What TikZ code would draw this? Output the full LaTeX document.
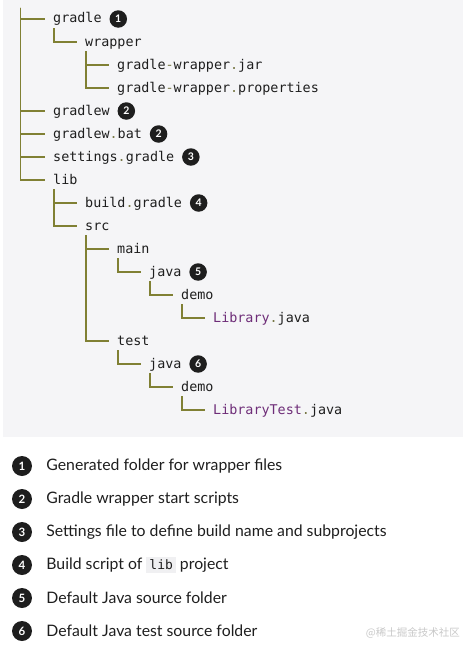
\documentclass[tikz,border=0pt]{standalone}
\usepackage{fontspec}
\setmainfont{Lato}
\setsansfont{Lato}
\setmonofont{DejaVu Sans Mono}
\newfontfamily\cjkfont{Noto Sans CJK SC}
\usetikzlibrary{positioning}

\definecolor{codebg}{RGB}{245,245,247}
\definecolor{inlinebg}{RGB}{240,240,242}
\definecolor{ink}{RGB}{30,30,30}
\definecolor{branch}{RGB}{128,128,52}
\definecolor{punct}{RGB}{120,120,70}
\definecolor{classname}{RGB}{110,45,120}
\definecolor{wmgray}{RGB}{200,200,200}

\newcommand\dt{{\color{punct}.}}
\newcommand\hy{{\color{punct}-}}
\newcommand\codeword[1]{{\setlength\fboxsep{3pt}\colorbox{inlinebg}{\ttfamily\fontsize{13}{15}\selectfont #1}}}
\newcommand\branchto[2]{\draw[treeline] ([xshift=1pt,yshift=-3pt]#1.south west) |- ([xshift=-8pt]#2.west);}

\tikzset{
  entry/.style={anchor=west, inner sep=0pt, text height=10pt, text depth=2pt,
    font=\ttfamily\fontsize{13.4}{15}\selectfont, text=ink},
  treeline/.style={draw=branch, line width=1.4pt},
  badge/.style={circle, fill=ink, text=white, inner sep=0pt, minimum size=17.5pt,
    font=\sffamily\bfseries\fontsize{10.5}{10.5}\selectfont},
  num/.style={circle, fill=ink, text=white, inner sep=0pt, minimum size=20pt,
    font=\sffamily\bfseries\fontsize{11.5}{11.5}\selectfont},
  note/.style={inner sep=0pt, text=ink, font=\fontsize{15.8}{18}\selectfont}
}

\begin{document}
\begin{tikzpicture}[x=1pt, y=-1pt]
\useasboundingbox (0,0) rectangle (463,645);
\fill[codebg] (3,0) rectangle (463,437);

% file tree
\node[inner sep=0pt] (root) at (20,4) {};
\node[entry] (gradle) at (53,19) {gradle};
\node[entry] (wrapper) at (85,42) {wrapper};
\node[entry] (jar) at (117,65) {gradle\hy wrapper\dt jar};
\node[entry] (props) at (117,88) {gradle\hy wrapper\dt properties};
\node[entry] (gradlew) at (53,111) {gradlew};
\node[entry] (bat) at (53,134) {gradlew\dt bat};
\node[entry] (settings) at (53,157) {settings\dt gradle};
\node[entry] (lib) at (53,180) {lib};
\node[entry] (build) at (85,203) {build\dt gradle};
\node[entry] (src) at (85,226) {src};
\node[entry] (main) at (117,249) {main};
\node[entry] (mainjava) at (149,272) {java};
\node[entry] (maindemo) at (181,295) {demo};
\node[entry] (library) at (213,318) {{\color{classname}Library}\dt java};
\node[entry] (test) at (117,341) {test};
\node[entry] (testjava) at (149,364) {java};
\node[entry] (testdemo) at (181,387) {demo};
\node[entry] (librarytest) at (213,410) {{\color{classname}LibraryTest}\dt java};

\branchto{root}{gradle}
\branchto{root}{gradlew}
\branchto{root}{bat}
\branchto{root}{settings}
\branchto{root}{lib}
\branchto{gradle}{wrapper}
\branchto{wrapper}{jar}
\branchto{wrapper}{props}
\branchto{lib}{build}
\branchto{lib}{src}
\branchto{src}{main}
\branchto{src}{test}
\branchto{main}{mainjava}
\branchto{mainjava}{maindemo}
\branchto{maindemo}{library}
\branchto{test}{testjava}
\branchto{testjava}{testdemo}
\branchto{testdemo}{librarytest}

% callouts
\node[badge, right=7.5pt of gradle] (b1) {1};
\node[badge, right=7.5pt of gradlew] (b2) {2};
\node[badge, right=7.5pt of bat] (b2b) {2};
\node[badge, right=7.5pt of settings] (b3) {3};
\node[badge, right=7.5pt of build] (b4) {4};
\node[badge, right=7.5pt of mainjava] (b5) {5};
\node[badge, right=7.5pt of testjava] (b6) {6};

% legend
\node[num] (n1) at (22,466) {1};
\node[num] (n2) at (22,499) {2};
\node[num] (n3) at (22,532) {3};
\node[num] (n4) at (22,565) {4};
\node[num] (n5) at (22,598) {5};
\node[num] (n6) at (22,631) {6};
\node[note, right=14pt of n1] (t1) {Generated folder for wrapper files};
\node[note, right=14pt of n2] (t2) {Gradle wrapper start scripts};
\node[note, right=14pt of n3] (t3) {Settings file to define build name and subprojects};
\node[note, right=14pt of n4] (t4) {Build script of \codeword{lib} project};
\node[note, right=14pt of n5] (t5) {Default Java source folder};
\node[note, right=14pt of n6] (t6) {Default Java test source folder};

\node[anchor=east, inner sep=0pt, text=wmgray, font=\cjkfont\fontsize{10.5}{11}\selectfont] (mark) at (460,633) {@稀土掘金技术社区};
\end{tikzpicture}
\end{document}
